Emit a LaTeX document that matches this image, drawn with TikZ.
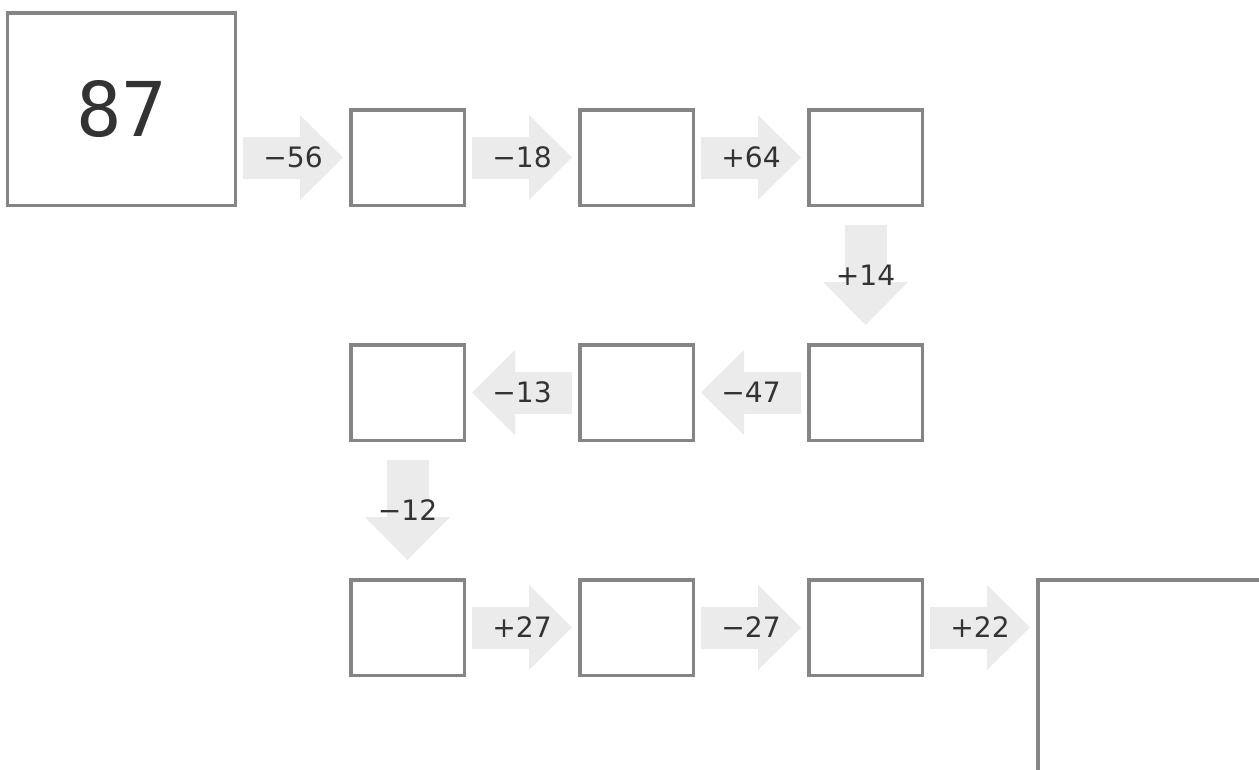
\documentclass[tikz,border=0pt]{standalone}
\usepackage{fontspec}
\usepackage{tikz}
\usetikzlibrary{arrows.meta,positioning}
\setmainfont{DejaVu Sans}
\newfontfamily\bigdigits{DejaVu Sans Mono}
\definecolor{boxgray}{HTML}{858585}
\definecolor{arrowgray}{HTML}{EBEBEB}
\definecolor{inkgray}{HTML}{333333}
\tikzset{
  numbox/.style={
    draw=boxgray,
    line width=0.07cm,
    minimum width=2.27cm,
    minimum height=1.91cm,
    inner sep=0pt
  },
  startbox/.style={
    numbox,
    minimum width=4.55cm,
    minimum height=3.85cm,
    text=inkgray,
    font=\bigdigits\fontsize{43}{43}\selectfont
  },
  flow/.style={
    -{Triangle[length=0.86cm,width=1.7cm,line width=0pt]},
    line width=0.84cm,
    draw=arrowgray
  },
  hflow/.style={flow, shorten <=0.12cm, shorten >=0.12cm},
  vflow/.style={flow, shorten <=0.36cm, shorten >=0.36cm},
  steplabel/.style={
    text=inkgray,
    inner sep=0pt,
    font=\fontsize{16}{16}\selectfont
  }
}

\begin{document}
\begin{tikzpicture}[node distance=2.72cm and 2.24cm]
\useasboundingbox (0,0) rectangle (25.18,-15.38);
\node[startbox] (start) at (2.43,-2.18) {87};
\node[numbox, anchor=south west] (b1) at ([xshift=2.24cm]start.south east) {};
\node[numbox, right=of b1] (b2) {};
\node[numbox, right=of b2] (b3) {};
\node[numbox, below=of b3] (b4) {};
\node[numbox, left=of b4] (b5) {};
\node[numbox, left=of b5] (b6) {};
\node[numbox, below=of b6] (b7) {};
\node[numbox, right=of b7] (b8) {};
\node[numbox, right=of b8] (b9) {};
\node[numbox, minimum width=4.55cm, minimum height=3.85cm, anchor=north west] (result) at ([xshift=2.24cm]b9.north east) {};
\draw[hflow] (start.east |- b1.west) -- (b1.west) node[steplabel, midway] (s1) {−56};
\draw[hflow] (b1) -- (b2) node[steplabel, midway] (s2) {−18};
\draw[hflow] (b2) -- (b3) node[steplabel, midway] (s3) {+64};
\draw[vflow] (b3) -- (b4) node[steplabel, midway] (s4) {+14};
\draw[hflow] (b4) -- (b5) node[steplabel, midway] (s5) {−47};
\draw[hflow] (b5) -- (b6) node[steplabel, midway] (s6) {−13};
\draw[vflow] (b6) -- (b7) node[steplabel, midway] (s7) {−12};
\draw[hflow] (b7) -- (b8) node[steplabel, midway] (s8) {+27};
\draw[hflow] (b8) -- (b9) node[steplabel, midway] (s9) {−27};
\draw[hflow] (b9.east) -- (b9.east -| result.west) node[steplabel, midway] (s10) {+22};
\end{tikzpicture}
\end{document}
